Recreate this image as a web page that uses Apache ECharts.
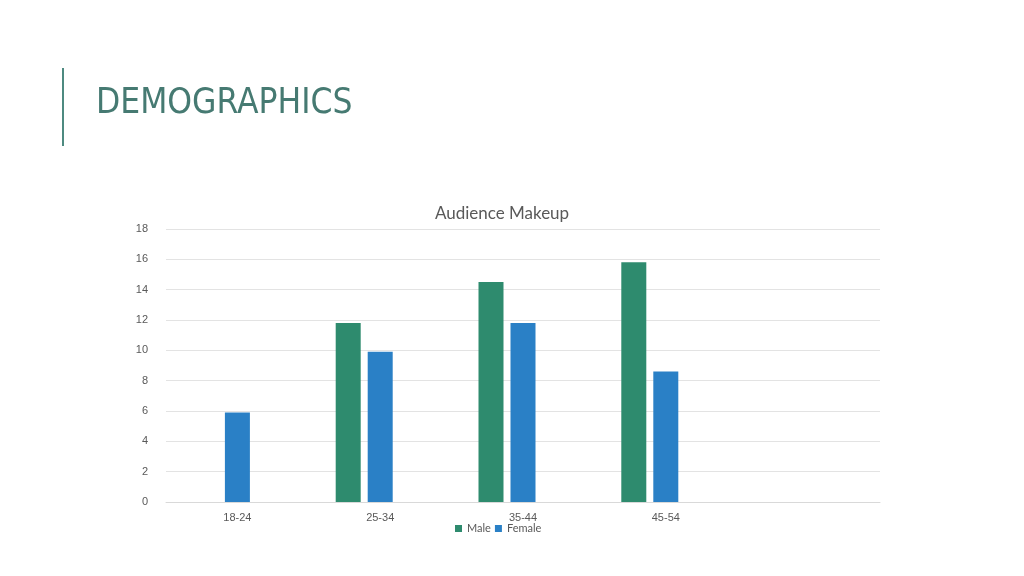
<!DOCTYPE html>
<html>
<head>
<meta charset="utf-8">
<script src="https://cdn.jsdelivr.net/npm/echarts@6/dist/echarts.min.js"></script>
<style>
body { margin: 0; background: #fff; }
#main { width: 1024px; height: 576px; }
</style>
</head>
<body>
<div id="main"></div>
<script>
var categories = ['18-24', '25-34', '35-44', '45-54', ''];
var maleData = [null, 11.8, 14.5, 15.8, null];
var femaleData = [5.9, 9.9, 11.8, 8.6, null];
var emptyData = [null, null, null, null, null];
var yTicks = { min: 0, max: 18, interval: 2 };

var myChart = echarts.init(document.getElementById('main'));
var option = {
	graphic: [
		{ type: 'rect', shape: { x: 62, y: 68, width: 2, height: 78 }, style: { fill: '#4e8a80' } },
		{ type: 'text', left: 96, top: 86, style: { text: 'DEMOGRAPHICS', fill: '#467a72', font: '35px "DejaVu Sans Condensed", sans-serif' } }
	],
	title: {
		text: 'Audience Makeup',
		left: 497, textAlign: 'center', top: 200,
		textStyle: { fontSize: 17, fontWeight: 'normal', color: '#595959', fontFamily: 'Lato' }
	},
	legend: {
		top: 518, left: 450,
		itemWidth: 7, itemHeight: 7, itemGap: 4,
		icon: 'rect',
		textStyle: { fontSize: 11, color: '#595959', fontFamily: 'Lato' },
		data: ['Male', 'Female']
	},
	grid: { left: 166, right: 144, top: 229, bottom: 74 },
	xAxis: {
		type: 'category',
		data: categories,
		axisTick: { show: false },
		axisLine: { lineStyle: { color: '#d9d9d9' } },
		axisLabel: { color: '#595959', fontSize: 11, margin: 10 }
	},
	yAxis: {
		type: 'value',
		min: yTicks.min, max: yTicks.max, interval: yTicks.interval,
		axisLabel: { color: '#595959', fontSize: 11, margin: 18 },
		splitLine: { lineStyle: { color: '#e3e3e3' } }
	},
	series: [
		{ name: 'Male', type: 'bar', data: maleData, barWidth: 25, barGap: '28%', itemStyle: { color: '#2e8b6e' } },
		{ name: 'Female', type: 'bar', data: femaleData, barWidth: 25, itemStyle: { color: '#2a80c6' } },
		{ name: 'Other', type: 'bar', data: emptyData, barWidth: 25, itemStyle: { color: '#888' } }
	]
};
myChart.setOption(option);
</script>
</body>
</html>
